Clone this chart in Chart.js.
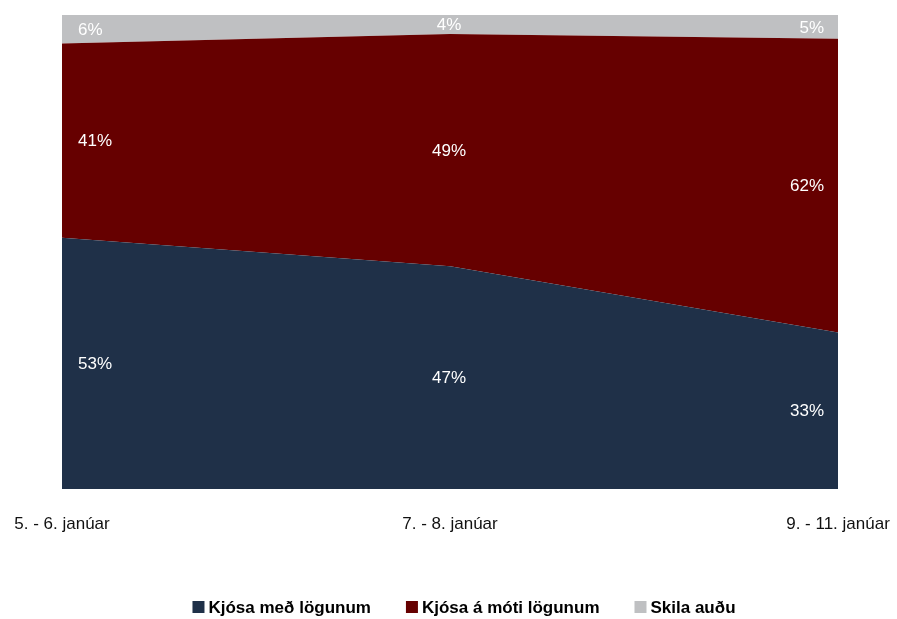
<!DOCTYPE html>
<html>
<head>
<meta charset="utf-8">
<script src="https://cdn.jsdelivr.net/npm/chart.js@4/dist/chart.umd.min.js"></script>
<style>
  html, body { margin: 0; padding: 0; background: #fff; }
  #wrap { width: 897px; height: 619px; }
</style>
</head>
<body>
<div id="wrap"><canvas id="chart" width="897" height="619"></canvas></div>
<script>
// survey periods
const periods = ['5. - 6. janúar', '7. - 8. janúar', '9. - 11. janúar'];
// shares in %
const withDeal = [53, 47, 33];
const againstDeal = [41, 49, 62];
const blank = [6, 4, 5];

const seriesNames = ['Kjósa með lögunum', 'Kjósa á móti lögunum', 'Skila auðu'];
const seriesColors = ['#1f3048', '#660000', '#bfc0c2'];

const FONT = "'Liberation Sans', Arial, sans-serif";

// white % labels in the middle of each band
const bandLabels = {
  id: 'bandLabels',
  afterDatasetsDraw(chart) {
    const ctx = chart.ctx;
    const y = chart.scales.y;
    const n = chart.data.labels.length;
    ctx.save();
    ctx.font = '17px ' + FONT;
    ctx.fillStyle = '#ffffff';
    ctx.textBaseline = 'middle';
    for (let i = 0; i < n; i++) {
      let base = 0;
      chart.data.datasets.forEach((ds, d) => {
        const v = ds.data[i];
        const pt = chart.getDatasetMeta(d).data[i];
        const mid = y.getPixelForValue(base + v / 2);
        base += v;
        let x = pt.x;
        if (i === 0) { ctx.textAlign = 'left'; x += 16; }
        else if (i === n - 1) { ctx.textAlign = 'right'; x -= 14; }
        else { ctx.textAlign = 'center'; x -= 1; }
        ctx.fillText(v + '%', x, mid + 1);
      });
    }
    ctx.restore();
  }
};

// legend row at the bottom
const bottomLegend = {
  id: 'bottomLegend',
  afterDraw(chart) {
    const ctx = chart.ctx;
    ctx.save();
    ctx.font = 'bold 17px ' + FONT;
    ctx.textBaseline = 'middle';
    const box = 12, gap = 4, spacing = 35;
    const items = chart.data.datasets.map(ds => ({
      text: ds.label, color: ds.backgroundColor,
      w: box + gap + ctx.measureText(ds.label).width
    }));
    const total = items.reduce((s, it) => s + it.w, 0) + spacing * (items.length - 1);
    let x = 464 - total / 2;
    const cy = 607;
    items.forEach(it => {
      ctx.fillStyle = it.color;
      ctx.fillRect(x, cy - box / 2, box, box);
      ctx.fillStyle = '#000000';
      ctx.textAlign = 'left';
      ctx.fillText(it.text, x + box + gap, cy + 1);
      x += it.w + spacing;
    });
    ctx.restore();
  }
};

const values = [withDeal, againstDeal, blank];

new Chart(document.getElementById('chart'), {
  type: 'line',
  data: {
    labels: periods,
    datasets: values.map((arr, i) => ({
      label: seriesNames[i],
      data: arr,
      backgroundColor: seriesColors[i],
      borderColor: seriesColors[i],
      borderWidth: 0,
      pointRadius: 0,
      tension: 0,
      fill: i === 0 ? 'origin' : '-1'
    }))
  },
  options: {
    responsive: false,
    animation: false,
    layout: { padding: { left: 62, right: 59, top: 15, bottom: 0 } },
    plugins: {
      legend: { display: false },
      tooltip: { enabled: false }
    },
    scales: {
      x: {
        offset: false,
        grid: { display: false, drawTicks: false },
        border: { display: false },
        ticks: {
          color: '#111111',
          font: { family: FONT, size: 17 },
          padding: 25,
          maxRotation: 0,
          autoSkip: false
        },
        afterFit(scale) {
          scale.height = 130;
          scale.paddingLeft = 0;
          scale.paddingRight = 0;
        }
      },
      y: {
        stacked: true,
        min: 0,
        max: 100,
        display: false
      }
    }
  },
  plugins: [bandLabels, bottomLegend]
});
</script>
</body>
</html>
